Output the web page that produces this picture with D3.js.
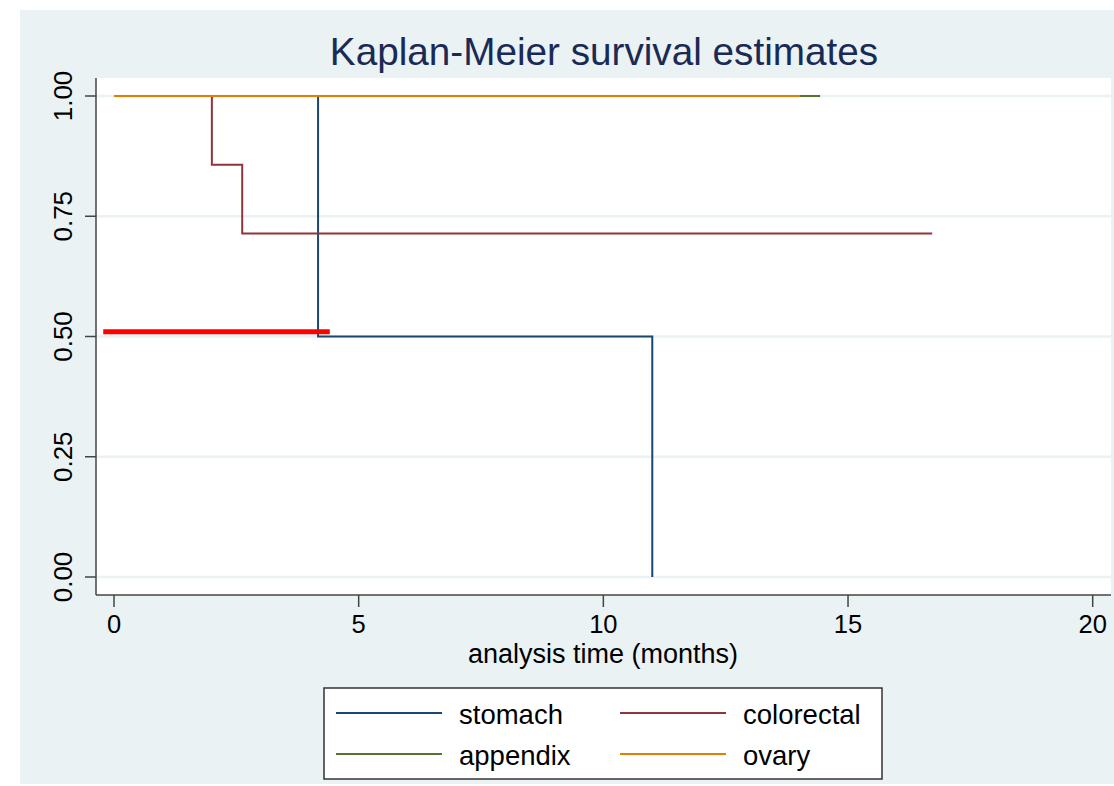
<!DOCTYPE html>
<html><head><meta charset="utf-8">
<script src="https://cdn.jsdelivr.net/npm/d3@7"></script>
<style>body{margin:0;background:#fff;} svg{display:block;}</style>
</head><body>
<svg id="c" width="1114" height="786"></svg>
<script>
// Data
const seriesNames = ["stomach", "colorectal", "appendix", "ovary"];
const seriesColors = ["#1a476f", "#90353b", "#55752f", "#e37e00"];
// step curves: [time, survival]
const stomach = [[0,1.0],[4.17,1.0],[4.17,0.5],[11.0,0.5],[11.0,0.0]];
const colorectal = [[0,1.0],[2.0,1.0],[2.0,0.857],[2.62,0.857],[2.62,0.714],[16.72,0.714]];
const appendix = [[0,1.0],[14.43,1.0]];
const ovary = [[0,1.0],[14.02,1.0]];
const medianLine = [[-0.22,0.51],[4.41,0.51]];
const xTicks = [0,5,10,15,20];
const yTicks = [0,0.25,0.5,0.75,1.0];
const titleText = "Kaplan-Meier survival estimates";
const xLabel = "analysis time (months)";

const svg = d3.select("#c");
const font = "'Liberation Sans', Arial, Helvetica, sans-serif";

svg.append("rect").attr("x",20).attr("y",10).attr("width",1094).attr("height",774).attr("fill","#eaf2f3");

const L=96, R=1111, T=78, B=595;
svg.append("rect").attr("x",L).attr("y",T).attr("width",R-L).attr("height",B-T).attr("fill","#fff");

const x = d3.scaleLinear().domain([0,20]).range([114,1092.7]);
const y = d3.scaleLinear().domain([0,1]).range([577,96]);

// gridlines
svg.append("g").selectAll("line").data(yTicks).join("line")
  .attr("x1",L).attr("x2",R).attr("y1",d=>y(d)).attr("y2",d=>y(d))
  .attr("stroke","#eaf2f3").attr("stroke-width",2.5);

// curves
const line = d3.line().x(d=>x(d[0])).y(d=>y(d[1]));
const curves = [stomach, colorectal, appendix, ovary];
curves.forEach((c,i)=>{
  svg.append("path").datum(c).attr("d",line).attr("fill","none")
    .attr("stroke",seriesColors[i]).attr("stroke-width",2);
});
svg.append("path").datum(medianLine).attr("d",line).attr("fill","none")
  .attr("stroke","#ff0000").attr("stroke-width",5);

// axes
const ax = svg.append("g");
ax.append("line").attr("x1",L).attr("x2",L).attr("y1",T).attr("y2",B).attr("stroke","#444").attr("stroke-width",1.5);
ax.append("line").attr("x1",L).attr("x2",R).attr("y1",B).attr("y2",B).attr("stroke","#444").attr("stroke-width",1.5);
ax.selectAll(".yt").data(yTicks).join("line").attr("class","yt")
  .attr("x1",85).attr("x2",L).attr("y1",d=>y(d)).attr("y2",d=>y(d)).attr("stroke","#444").attr("stroke-width",1.5);
ax.selectAll(".xt").data(xTicks).join("line").attr("class","xt")
  .attr("x1",d=>x(d)).attr("x2",d=>x(d)).attr("y1",B).attr("y2",607).attr("stroke","#444").attr("stroke-width",1.5);
ax.selectAll(".yl").data(yTicks).join("text").attr("class","yl")
  .attr("transform",d=>`translate(72,${y(d)}) rotate(-90)`)
  .attr("text-anchor","middle").attr("font-family",font).attr("font-size",26).attr("fill","#000")
  .text(d=>d3.format(".2f")(d));
ax.selectAll(".xl").data(xTicks).join("text").attr("class","xl")
  .attr("x",d=>x(d)).attr("y",633)
  .attr("text-anchor","middle").attr("font-family",font).attr("font-size",25.5).attr("fill","#000")
  .text(d=>d);
svg.append("text").attr("x",603).attr("y",663).attr("text-anchor","middle")
  .attr("font-family",font).attr("font-size",27).attr("fill","#000").text(xLabel);

svg.append("text").attr("x",604).attr("y",65).attr("text-anchor","middle")
  .attr("font-family",font).attr("font-size",38.7).attr("fill","#1a2a56").text(titleText);

// legend
const lg = svg.append("g");
lg.append("rect").attr("x",324).attr("y",688).attr("width",558).attr("height",91)
  .attr("fill","#fff").attr("stroke","#333").attr("stroke-width",1.5);
const pos = [[336,713],[620,713],[336,754],[620,754]];
seriesNames.forEach((n,i)=>{
  const [px,py]=pos[i];
  lg.append("line").attr("x1",px).attr("x2",px+106).attr("y1",py).attr("y2",py)
    .attr("stroke",seriesColors[i]).attr("stroke-width",2);
  lg.append("text").attr("x",px+123).attr("y",py+11).attr("font-family",font)
    .attr("font-size",27.5).attr("fill","#000").text(n);
});
</script>
</body></html>
